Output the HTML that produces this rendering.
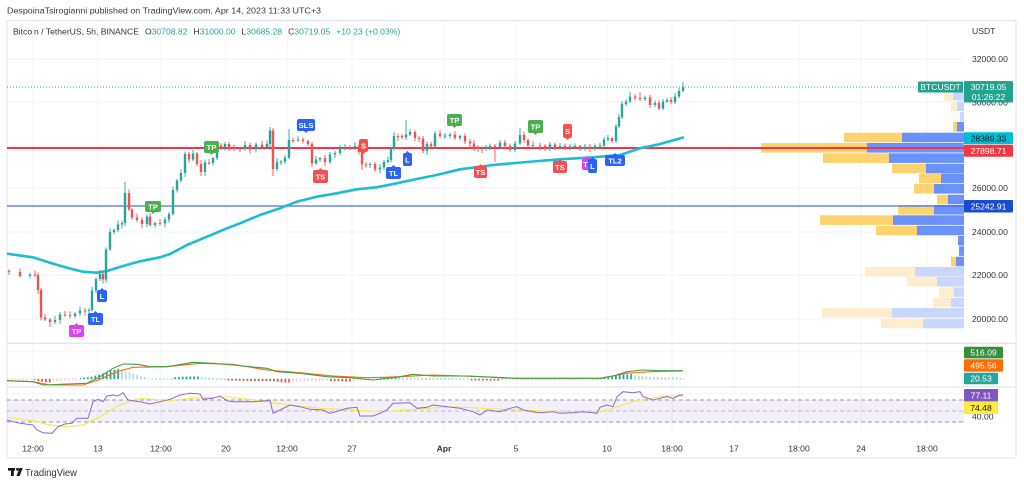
<!DOCTYPE html>
<html><head><meta charset="utf-8"><style>
html,body{margin:0;padding:0;background:#fff;}
svg{display:block;font-family:"Liberation Sans",sans-serif;}
</style></head><body>
<svg width="1024" height="485" viewBox="0 0 1024 485" xmlns="http://www.w3.org/2000/svg">
<defs>
<pattern id="pT" patternUnits="userSpaceOnUse" x="7" y="0" width="3.8" height="20"><rect width="1.8" height="20" fill="#26a69a"/></pattern>
<pattern id="pTl" patternUnits="userSpaceOnUse" x="7" y="0" width="3.8" height="20"><rect width="1.8" height="20" fill="#b2dfdb"/></pattern>
<pattern id="pR" patternUnits="userSpaceOnUse" x="7" y="0" width="3.8" height="20"><rect width="1.8" height="20" fill="#ef5350"/></pattern>
<pattern id="pRl" patternUnits="userSpaceOnUse" x="7" y="0" width="3.8" height="20"><rect width="1.8" height="20" fill="#ffcdd2"/></pattern>
</defs>
<rect width="1024" height="485" fill="#fff"/>
<!-- header -->
<text x="7" y="13.7" font-size="8.6" fill="#3a3a3a" textLength="314" lengthAdjust="spacingAndGlyphs">DespoinaTsirogianni published on TradingView.com, Apr 14, 2023 11:33 UTC+3</text>
<rect x="7" y="20.5" width="1009" height="437.5" fill="none" stroke="#e0e3eb" stroke-width="1"/>
<text x="13" y="34.7" font-size="8.6" fill="#333">Bitcoin / TetherUS, 5h, BINANCE<tspan dx="6">O</tspan><tspan fill="#26a69a">30708.82</tspan><tspan dx="6">H</tspan><tspan fill="#26a69a">31000.00</tspan><tspan dx="6">L</tspan><tspan fill="#26a69a">30685.28</tspan><tspan dx="6">C</tspan><tspan fill="#26a69a">30719.05</tspan><tspan dx="6" fill="#26a69a">+10.23 (+0.03%)</tspan></text>

<g stroke="#f0f3fa" stroke-width="1">
<line x1="33" y1="21" x2="33" y2="432"/><line x1="98" y1="21" x2="98" y2="432"/><line x1="161" y1="21" x2="161" y2="432"/><line x1="226" y1="21" x2="226" y2="432"/><line x1="287" y1="21" x2="287" y2="432"/><line x1="352" y1="21" x2="352" y2="432"/><line x1="444" y1="21" x2="444" y2="432"/><line x1="516" y1="21" x2="516" y2="432"/><line x1="607" y1="21" x2="607" y2="432"/><line x1="672" y1="21" x2="672" y2="432"/><line x1="734" y1="21" x2="734" y2="432"/><line x1="799" y1="21" x2="799" y2="432"/><line x1="861" y1="21" x2="861" y2="432"/><line x1="927" y1="21" x2="927" y2="432"/>
<line x1="7" y1="59" x2="964" y2="59"/><line x1="7" y1="102" x2="964" y2="102"/><line x1="7" y1="145.7" x2="964" y2="145.7"/><line x1="7" y1="188" x2="964" y2="188"/><line x1="7" y1="232" x2="964" y2="232"/><line x1="7" y1="275" x2="964" y2="275"/><line x1="7" y1="319" x2="964" y2="319"/>
<line x1="7" y1="351.7" x2="964" y2="351.7"/><line x1="7" y1="394" x2="964" y2="394"/>
</g>
<rect x="7" y="342.5" width="1009" height="1.6" fill="#e6e8ee"/>
<rect x="7" y="386.2" width="1009" height="1.4" fill="#e6e8ee"/>

<!-- volume profile -->
<g>
<rect x="944" y="91" width="9" height="9.6" fill="#fdedcc"/><rect x="953" y="91" width="11" height="9.6" fill="#c9d7fd"/>
<rect x="951" y="101.5" width="6" height="9.6" fill="#fdedcc"/><rect x="957" y="101.5" width="7" height="9.6" fill="#c9d7fd"/>
<rect x="960" y="112" width="4" height="9.6" fill="#c9d7fd"/>
<rect x="953" y="122" width="4" height="9.6" fill="#fcd36f"/><rect x="957" y="122" width="7" height="9.6" fill="#6b92fb"/>
<rect x="844" y="132.7" width="58" height="9.6" fill="#fcd36f"/><rect x="902" y="132.7" width="62" height="9.6" fill="#6b92fb"/>
<rect x="761" y="143" width="106" height="9.6" fill="#fcd36f"/><rect x="867" y="143" width="97" height="9.6" fill="#6b92fb"/>
<rect x="823" y="153.3" width="66" height="9.6" fill="#fcd36f"/><rect x="889" y="153.3" width="75" height="9.6" fill="#6b92fb"/>
<rect x="892" y="163.7" width="34" height="9.6" fill="#fcd36f"/><rect x="926" y="163.7" width="38" height="9.6" fill="#6b92fb"/>
<rect x="919" y="173.7" width="22" height="9.6" fill="#fcd36f"/><rect x="941" y="173.7" width="23" height="9.6" fill="#6b92fb"/>
<rect x="914" y="184" width="20" height="9.6" fill="#fcd36f"/><rect x="934" y="184" width="30" height="9.6" fill="#6b92fb"/>
<rect x="937" y="194.7" width="11" height="9.6" fill="#fcd36f"/><rect x="948" y="194.7" width="16" height="9.6" fill="#6b92fb"/>
<rect x="898" y="205" width="36" height="9.6" fill="#fcd36f"/><rect x="934" y="205" width="30" height="9.6" fill="#6b92fb"/>
<rect x="820" y="215.3" width="73" height="9.6" fill="#fcd36f"/><rect x="893" y="215.3" width="71" height="9.6" fill="#6b92fb"/>
<rect x="876" y="225.7" width="41" height="9.6" fill="#fcd36f"/><rect x="917" y="225.7" width="47" height="9.6" fill="#6b92fb"/>
<rect x="958" y="236" width="6" height="9.6" fill="#6b92fb"/>
<rect x="959" y="246.3" width="5" height="9.6" fill="#6b92fb"/>
<rect x="951" y="256.7" width="5" height="9.6" fill="#fcd36f"/><rect x="956" y="256.7" width="8" height="9.6" fill="#6b92fb"/>
<rect x="865" y="267" width="50" height="9.6" fill="#fdedcc"/><rect x="915" y="267" width="49" height="9.6" fill="#c9d7fd"/>
<rect x="907" y="277" width="30" height="9.6" fill="#fdedcc"/><rect x="937" y="277" width="27" height="9.6" fill="#c9d7fd"/>
<rect x="939" y="287.3" width="15" height="9.6" fill="#fdedcc"/><rect x="954" y="287.3" width="10" height="9.6" fill="#c9d7fd"/>
<rect x="933" y="297.7" width="18" height="9.6" fill="#fdedcc"/><rect x="951" y="297.7" width="13" height="9.6" fill="#c9d7fd"/>
<rect x="822" y="308" width="70" height="9.6" fill="#fdedcc"/><rect x="892" y="308" width="72" height="9.6" fill="#c9d7fd"/>
<rect x="881" y="318.7" width="42" height="9.6" fill="#fdedcc"/><rect x="923" y="318.7" width="41" height="9.6" fill="#c9d7fd"/>
</g>

<!-- horizontal levels -->
<line x1="7" y1="87" x2="918" y2="87" stroke="#26a69a" stroke-width="1" stroke-dasharray="1,2"/>
<line x1="7" y1="148" x2="964" y2="148" stroke="#f23645" stroke-width="2"/>
<line x1="7" y1="206" x2="964" y2="206" stroke="#4a6fe3" stroke-width="1.2"/>

<!-- MA line -->
<polyline fill="none" stroke="#1ebcd3" stroke-width="2.6" stroke-linejoin="round" points="7,253.7 33,257.3 50,262.7 67,267.7 83,271.7 97,272.7 107,271 123,266 140,261.3 160,257.3 170,254 187,245 207,236.7 227,228.3 240,223.3 260,215 280,208.3 296.7,201.7 316.7,196.7 336.7,193.3 356.7,189.3 376.7,187.3 396.7,183.3 416.7,179 436.7,175 460,169.3 493,165 526.7,162 560,159.3 593,157.3 620,155 640,148.3 660,144 684,137.3"/>

<!-- candles: red -->
<path fill="none" stroke="#ef5350" stroke-width="0.9" d="M9,269V275M20,268.5V277.5M35,270.5V277.5M38,272.5V294M41,288V320.5M45,314V321M50,318V327M65,311V317M70,311.5V318.5M85,308V315.5M103,271.5V283.5M129,189.5V211M132,208V220M137,213.5V222M142,217.5V228M150,213V226.5M160,219V226M189,152V162.5M197,152V166.5M201,160V176M209,159V165M221,143V150M229,142V151M234,144.5V151M240,147V152M250,142.5V153.5M262,141V149M273,128V176M293,137.5V143M303,137.5V143.5M308,139.5V146M312,142V167M325,155V166M350,145V150M359,143.5V154.5M362,150V170M366,162V168M375,162V172M398,133.5V141M402,134V139M415,130V141M419,136V142M423,136V153M431,142V148M440,130V138M455,131V140M465,133.5V144M470,139V148M474,140V151M478,145V152M482,146.5V153M495,144V162M505,140V148M510,143.5V152M524,131.5V143M528,138.5V148M540,143V150M545,144V151M555,142.5V150M565,143.5V149.5M580,145V151M590,144V152M612,136.5V143M635,94V100.5M640,92V101M650,95V108M659,100V110M671,97V104"/>
<path fill="#ef5350" d="M7.8,271h2.4v1h-2.4zM18.8,272h2.4v4h-2.4zM33.8,274.5h2.4v1h-2.4zM36.8,275h2.4v15h-2.4zM39.8,290h2.4v27.5h-2.4zM43.8,317.5h2.4v2h-2.4zM48.8,319.5h2.4v2.5h-2.4zM63.8,314.5h2.4v1h-2.4zM68.8,315h2.4v1h-2.4zM83.8,310.5h2.4v1h-2.4zM101.8,274h2.4v5.5h-2.4zM127.8,193h2.4v16.5h-2.4zM130.8,209.5h2.4v8h-2.4zM135.8,217.5h2.4v2.5h-2.4zM140.8,220h2.4v4h-2.4zM148.8,216.5h2.4v8.5h-2.4zM158.8,223h2.4v1h-2.4zM187.8,154h2.4v5.5h-2.4zM195.8,153.5h2.4v10.5h-2.4zM199.8,164h2.4v8h-2.4zM207.8,162.5h2.4v1h-2.4zM219.8,145.5h2.4v2h-2.4zM227.8,144h2.4v4h-2.4zM232.8,148h2.4v1h-2.4zM238.8,148.5h2.4v1h-2.4zM248.8,145h2.4v4.5h-2.4zM260.8,144.5h2.4v2.5h-2.4zM271.8,130.5h2.4v38.5h-2.4zM291.8,140h2.4v1h-2.4zM301.8,139.5h2.4v1.5h-2.4zM306.8,141h2.4v3h-2.4zM310.8,144h2.4v19.5h-2.4zM323.8,158h2.4v4h-2.4zM348.8,147.5h2.4v1h-2.4zM357.8,146h2.4v6h-2.4zM360.8,152h2.4v12.5h-2.4zM364.8,164.5h2.4v1h-2.4zM373.8,164h2.4v5.5h-2.4zM396.8,136h2.4v1h-2.4zM400.8,136h2.4v1.5h-2.4zM413.8,132h2.4v6h-2.4zM417.8,138h2.4v1h-2.4zM421.8,138.5h2.4v12.5h-2.4zM429.8,144h2.4v2.5h-2.4zM438.8,133.5h2.4v2.5h-2.4zM453.8,134.5h2.4v3.5h-2.4zM463.8,136h2.4v5.5h-2.4zM468.8,141.5h2.4v2h-2.4zM472.8,143.5h2.4v4.5h-2.4zM476.8,148h2.4v1h-2.4zM480.8,148h2.4v1h-2.4zM493.8,146h2.4v1.5h-2.4zM503.8,142.5h2.4v3.5h-2.4zM508.8,146h2.4v4h-2.4zM522.8,135h2.4v5h-2.4zM526.8,140h2.4v5.5h-2.4zM538.8,145.5h2.4v1h-2.4zM543.8,146h2.4v3h-2.4zM553.8,144.5h2.4v3.5h-2.4zM563.8,146h2.4v1.5h-2.4zM578.8,146h2.4v3h-2.4zM588.8,146.5h2.4v2.5h-2.4zM610.8,138h2.4v3h-2.4zM633.8,96.5h2.4v1.5h-2.4zM638.8,98h2.4v1h-2.4zM648.8,97.5h2.4v7.5h-2.4zM657.8,103h2.4v5.5h-2.4zM669.8,100h2.4v2h-2.4z"/>
<!-- candles: green -->
<path fill="none" stroke="#26a69a" stroke-width="0.9" d="M30,273V278.5M55,316V324M60,312V324M75,312V318M80,306.5V316M89,308V314M92,287V311.5M96,277.5V293M100,270V281M106,247.5V282.5M110,228.5V251M114,228.5V234.5M118,220.5V232M122,220.5V228.5M125,182V226M147,214.5V227M155,221.5V227.5M165,217V227.5M169,212V222.5M173,186.5V215.5M177,179V192.5M181,169V182.5M185,151.5V177M193,150V161M205,160V176M213,156.5V165.5M217,141.5V160M225,142V150.5M245,141V151M256,142.5V152.5M267,140.5V148.5M270,127V147M277,158V171M281,160V165M285,155V164M289,129V159M298,136V142M316,156V165M320,157V162M330,152V164M335,151V158M340,145.5V155.5M345,144V150.5M355,142V150M370,162.5V168M380,164V173.5M384,160V170M388,156.5V163.5M391,147V162.5M394,132V150.5M406,120V140M410,129V136M427,141.5V155M435,131V149M445,133V139M450,132.5V138.5M460,134.5V140.5M486,145V151M490,143.5V150M500,140V149M515,141V152M520,128V145M533,141V148M550,142V151M560,143V149.5M570,144V150.5M575,143.5V149M585,144V151M595,143.5V151M600,143V148M604,137V147M608,135V141.5M616,124V143M619,114V128M622,101V119M626,99V106M630,92V103M645,95.5V101M655,100.5V107M663,99V110M667,98V103M675,93V104M679,88V98M683,82V92"/>
<path fill="#26a69a" d="M28.8,274.5h2.4v1.5h-2.4zM53.8,320h2.4v2h-2.4zM58.8,314.5h2.4v5.5h-2.4zM73.8,313.5h2.4v2.5h-2.4zM78.8,310.5h2.4v3h-2.4zM87.8,310h2.4v1h-2.4zM90.8,290.5h2.4v19.5h-2.4zM94.8,279h2.4v11.5h-2.4zM98.8,274h2.4v5h-2.4zM104.8,249.5h2.4v30h-2.4zM108.8,232h2.4v17.5h-2.4zM112.8,230h2.4v2h-2.4zM116.8,224.5h2.4v5.5h-2.4zM120.8,223h2.4v1.5h-2.4zM123.8,193h2.4v30h-2.4zM145.8,216.5h2.4v7.5h-2.4zM153.8,223h2.4v2h-2.4zM163.8,219.5h2.4v4h-2.4zM167.8,214h2.4v5.5h-2.4zM171.8,190h2.4v24h-2.4zM175.8,180.5h2.4v9.5h-2.4zM179.8,173h2.4v7.5h-2.4zM183.8,154h2.4v19h-2.4zM191.8,153.5h2.4v6h-2.4zM203.8,162.5h2.4v9.5h-2.4zM211.8,158h2.4v5h-2.4zM215.8,145.5h2.4v12.5h-2.4zM223.8,144h2.4v3.5h-2.4zM243.8,145h2.4v4h-2.4zM254.8,144.5h2.4v5h-2.4zM265.8,144h2.4v3h-2.4zM268.8,130.5h2.4v13.5h-2.4zM275.8,162h2.4v7h-2.4zM279.8,161.5h2.4v1h-2.4zM283.8,157.5h2.4v4h-2.4zM287.8,140h2.4v17.5h-2.4zM296.8,139.5h2.4v1h-2.4zM314.8,159.5h2.4v4h-2.4zM318.8,158h2.4v1.5h-2.4zM328.8,154.5h2.4v7.5h-2.4zM333.8,153h2.4v1.5h-2.4zM338.8,148h2.4v5h-2.4zM343.8,147.5h2.4v1h-2.4zM353.8,146h2.4v1.5h-2.4zM368.8,164h2.4v1h-2.4zM378.8,167.5h2.4v2h-2.4zM382.8,162h2.4v5.5h-2.4zM386.8,160h2.4v2h-2.4zM389.8,148.5h2.4v11.5h-2.4zM392.8,136h2.4v12.5h-2.4zM404.8,134.5h2.4v3h-2.4zM408.8,132h2.4v2.5h-2.4zM425.8,144h2.4v7h-2.4zM433.8,133.5h2.4v13h-2.4zM443.8,135.5h2.4v1h-2.4zM448.8,134.5h2.4v1.5h-2.4zM458.8,136h2.4v2h-2.4zM484.8,148h2.4v1h-2.4zM488.8,146h2.4v2h-2.4zM498.8,142.5h2.4v5h-2.4zM513.8,143.5h2.4v6.5h-2.4zM518.8,135h2.4v8.5h-2.4zM531.8,145h2.4v1h-2.4zM548.8,144.5h2.4v4.5h-2.4zM558.8,146h2.4v2h-2.4zM568.8,146.5h2.4v1h-2.4zM573.8,146h2.4v1h-2.4zM583.8,146.5h2.4v2.5h-2.4zM593.8,146h2.4v3h-2.4zM598.8,145.5h2.4v1h-2.4zM602.8,139.5h2.4v6h-2.4zM606.8,138h2.4v1.5h-2.4zM614.8,126.5h2.4v14.5h-2.4zM617.8,117h2.4v9.5h-2.4zM620.8,104h2.4v13h-2.4zM624.8,101.5h2.4v2.5h-2.4zM628.8,96.5h2.4v5h-2.4zM643.8,97.5h2.4v1.5h-2.4zM653.8,103h2.4v2h-2.4zM661.8,101.5h2.4v7h-2.4zM665.8,100h2.4v1.5h-2.4zM673.8,96.5h2.4v5.5h-2.4zM677.8,91h2.4v5.5h-2.4zM681.8,87h2.4v4h-2.4z"/>

<!-- RSI band -->
<rect x="7" y="400" width="957" height="22" fill="#7e57c2" fill-opacity="0.09"/>
<g stroke="#9598a1" stroke-width="1" stroke-dasharray="4,3">
<line x1="7" y1="400" x2="964" y2="400"/><line x1="7" y1="411" x2="964" y2="411" stroke-opacity="0.6"/><line x1="7" y1="422" x2="964" y2="422"/>
</g>
<polyline fill="none" stroke="#fde74c" stroke-width="1.2" points="7,417.3 33,420.7 50,425 67,426.7 83,425 100,416.7 120,405 140,398.3 167,400.7 193,398.3 227,396.7 253,400 290,405 320,408.3 350,410 383,411.7 417,409.3 450,406.7 483,408.3 515,410 567,411.7 600,411.7 613,408.3 633,401.7 650,398.3 667,395.7 683,396"/>
<polyline fill="none" stroke="#8a6ad0" stroke-width="1" points="7,420 20,423.3 33,425 37,430 43,432.7 52,433.3 58,426.7 65,424 72,423.3 77,418.3 88,418.3 93,401.7 98,399.3 103,401.7 107,396 113,395 118,396 123,392.7 128,400 140,401.7 150,404 160,401.7 170,399.3 180,395 190,393.3 200,394 203,399.3 213,398.3 220,396 227,400.7 233,401.7 253,401.7 267,400.7 270,400 273,413.3 280,410 290,405 300,406.7 310,409.3 323,410 330,413.3 347,408.3 357,407.3 360,416 373,416 380,413.3 387,410 393,403.3 410,402.7 417,408.3 427,407.3 433,405 447,406.7 460,408.3 473,411.7 480,415 487,410 500,411.7 510,408.3 517,406.7 523,410 533,411.7 540,412.7 553,411.7 560,413.3 573,412.7 583,411.7 593,412.7 597,413.3 600,407.3 607,405 613,406.7 617,396.7 623,391.7 633,392.7 640,391.7 643,396.7 653,400 660,398.3 667,396.7 673,398.3 680,395 683,395"/>

<!-- MACD histogram -->
<rect x="7" y="378.4" width="677" height="1.3" fill="url(#pRl)"/>
<polygon fill="url(#pTl)" points="150,378.4 684,378.4 684,379.7 150,379.7"/>
<polygon fill="url(#pR)" points="33,379 38,381 46,382.5 52,382.5 52,379"/>
<polygon fill="url(#pRl)" points="52,379 52,381.5 75,380 75,379"/>
<polygon fill="url(#pT)" points="80,379 80,378 90,377 100,374.5 110,370.5 119,369 119,379"/>
<polygon fill="url(#pTl)" points="119,379 119,369.5 130,372.5 140,376 148,378 148,379"/>
<polygon fill="url(#pT)" points="172,379 172,377.5 185,376.5 199,376.5 199,379"/>
<polygon fill="url(#pTl)" points="199,379 199,377 215,378 215,379"/>
<polygon fill="url(#pR)" points="225,379 225,380.5 250,381 270,381 285,382.5 290,382.5 290,379"/>
<polygon fill="url(#pRl)" points="290,379 290,382 330,380.5 330,379"/>
<polygon fill="url(#pR)" points="330,379 330,381 345,381.5 352,381.5 352,379"/>
<polygon fill="url(#pRl)" points="352,379 352,381 378,380 378,379"/>
<polygon fill="url(#pT)" points="380,379 380,377.5 390,376.5 399,376.5 399,379"/>
<polygon fill="url(#pTl)" points="399,379 399,377.5 460,378.3 460,379"/>
<polygon fill="url(#pRl)" points="460,379 460,380.2 600,380.2 600,379"/>
<polygon fill="url(#pR)" points="470,379 470,380.5 500,380.5 500,379"/>
<polygon fill="url(#pT)" points="600,379 600,378 610,376.5 620,375 633,374 633,379"/>
<polygon fill="url(#pTl)" points="633,379 633,375 650,376.8 684,377.8 684,379"/>
<polyline fill="none" stroke="#ff6d00" stroke-width="1.1" points="7,380.7 33,381.7 50,385 83,385 100,379.3 117,371.7 133,367.3 167,366.7 200,363.3 233,364.3 267,370 300,372.7 333,376 367,377.7 400,376.7 433,375 483,376.7 517,378.3 600,378.3 627,373.3 650,371.7 683,371"/>
<polyline fill="none" stroke="#43a047" stroke-width="1.1" points="7,380.7 33,381.7 43,385 67,384 87,383.3 100,376.7 113,368.3 123,364 137,364.3 150,366.7 167,366.7 193,362.3 213,363.3 233,365 267,368.3 277,371.7 300,373.3 327,376.7 350,377.7 373,380 400,376.7 413,374.3 433,376 467,376 500,377.7 517,378.3 600,378.3 613,376 627,371.7 643,370 660,370.7 683,370.7"/>

<!-- tags -->
<g font-size="7.6" font-weight="bold" fill="#fff" text-anchor="middle">
<rect x="69" y="325" width="15" height="12" rx="2" fill="#e040fb"/><polygon points="74.5,325 78.5,325 76.5,323" fill="#e040fb"/><text x="76.5" y="333.8">TP</text>
<rect x="88" y="313" width="15" height="12" rx="2" fill="#2962ff"/><polygon points="93.5,313 97.5,313 95.5,311" fill="#2962ff"/><text x="95.5" y="321.8">TL</text>
<rect x="97" y="290" width="10" height="12" rx="2" fill="#2962ff"/><polygon points="100,290 104,290 102,288" fill="#2962ff"/><text x="102" y="298.8">L</text>
<rect x="145" y="201" width="16" height="11" rx="2" fill="#4caf50"/><polygon points="151,212 155,212 153,214" fill="#4caf50"/><text x="153" y="209.3">TP</text>
<rect x="204" y="141" width="15" height="12" rx="2" fill="#4caf50"/><polygon points="209.5,153 213.5,153 211.5,155" fill="#4caf50"/><text x="211.5" y="149.8">TP</text>
<rect x="297" y="119" width="18" height="12" rx="2" fill="#2962ff"/><polygon points="304,131 308,131 306,133" fill="#2962ff"/><text x="306" y="127.8">SLS</text>
<rect x="313" y="170" width="15" height="13" rx="2" fill="#f44f4f"/><polygon points="318.5,170 322.5,170 320.5,168" fill="#f44f4f"/><text x="320.5" y="179.3">TS</text>
<rect x="359" y="139" width="9" height="13" rx="2" fill="#f44f4f"/><polygon points="361.5,152 365.5,152 363.5,154" fill="#f44f4f"/><text x="363.5" y="148.3">S</text>
<rect x="386" y="167" width="15" height="12" rx="2" fill="#2962ff"/><polygon points="391.5,167 395.5,167 393.5,165" fill="#2962ff"/><text x="393.5" y="175.8">TL</text>
<rect x="403" y="153" width="9" height="13" rx="2" fill="#2962ff"/><polygon points="405.5,153 409.5,153 407.5,151" fill="#2962ff"/><text x="407.5" y="162.3">L</text>
<rect x="447" y="114" width="15" height="12" rx="2" fill="#4caf50"/><polygon points="452.5,126 456.5,126 454.5,128" fill="#4caf50"/><text x="454.5" y="122.8">TP</text>
<rect x="474" y="166" width="13" height="12" rx="2" fill="#f44f4f"/><polygon points="478.5,166 482.5,166 480.5,164" fill="#f44f4f"/><text x="480.5" y="174.8">TS</text>
<rect x="528" y="120" width="15" height="13" rx="2" fill="#4caf50"/><polygon points="533.5,133 537.5,133 535.5,135" fill="#4caf50"/><text x="535.5" y="129.3">TP</text>
<rect x="563" y="124" width="9" height="14" rx="2" fill="#f44f4f"/><polygon points="565.5,138 569.5,138 567.5,140" fill="#f44f4f"/><text x="567.5" y="133.8">S</text>
<rect x="553" y="161" width="14" height="12" rx="2" fill="#f44f4f"/><polygon points="558,161 562,161 560,159" fill="#f44f4f"/><text x="560" y="169.8">TS</text>
<rect x="582" y="158" width="9" height="12" rx="2" fill="#e040fb"/><polygon points="584.5,158 588.5,158 586.5,156" fill="#e040fb"/><text x="585.5" y="166.8">T</text>
<rect x="588" y="159" width="9" height="14" rx="2" fill="#2962ff"/><polygon points="590.5,159 594.5,159 592.5,157" fill="#2962ff"/><text x="592.5" y="168.8">L</text>
<rect x="605" y="155" width="20" height="11" rx="2" fill="#2962ff"/><polygon points="613,155 617,155 615,153" fill="#2962ff"/><text x="615" y="163.3">TL2</text>
</g>

<!-- price axis -->
<g font-size="8.6" fill="#333">
<text x="972" y="34">USDT</text>
<text x="972" y="62">32000.00</text>
<text x="972" y="105.5">30000.00</text>
<text x="972" y="191">26000.00</text>
<text x="972" y="235">24000.00</text>
<text x="972" y="278">22000.00</text>
<text x="972" y="322">20000.00</text>
<text x="972" y="419.5">40.00</text>
</g>
<g font-size="8.6">
<rect x="918" y="81.5" width="45" height="11" rx="1" fill="#22a28f"/><text x="940.5" y="90" fill="#fff" text-anchor="middle">BTCUSDT</text>
<rect x="964" y="81" width="49" height="21.5" rx="1" fill="#22a28f"/><text x="988.5" y="90" fill="#fff" text-anchor="middle">30719.05</text><text x="988.5" y="100" fill="#fff" text-anchor="middle">01:26:22</text>
<rect x="964" y="132.3" width="49" height="11.8" rx="1" fill="#00bcd4"/><text x="988.5" y="141.3" fill="#131722" text-anchor="middle">28389.33</text>
<rect x="964" y="144.8" width="49" height="12" rx="1" fill="#f23645"/><text x="988.5" y="153.8" fill="#fff" text-anchor="middle">27898.71</text>
<rect x="964" y="200" width="49" height="12.5" rx="1" fill="#1a4bd0"/><text x="988.5" y="209.3" fill="#fff" text-anchor="middle">25242.91</text>
<rect x="964" y="346.8" width="39" height="11.6" rx="1" fill="#388e3c"/><text x="983.5" y="355.7" fill="#fff" text-anchor="middle">516.09</text>
<rect x="964" y="359.3" width="39" height="12.3" rx="1" fill="#ff6d00"/><text x="983.5" y="368.5" fill="#fff" text-anchor="middle">495.56</text>
<rect x="964" y="372.7" width="34" height="11.6" rx="1" fill="#26a69a"/><text x="981" y="381.6" fill="#fff" text-anchor="middle">20.53</text>
<rect x="964" y="389" width="34" height="12.5" rx="1" fill="#7e57c2"/><text x="981" y="398.3" fill="#fff" text-anchor="middle">77.11</text>
<rect x="964" y="402" width="34" height="12" rx="1" fill="#ffeb3b"/><text x="981" y="411" fill="#131722" text-anchor="middle">74.48</text>
</g>

<!-- time axis -->
<g font-size="8.6" fill="#333" text-anchor="middle">
<text x="33" y="451.5">12:00</text><text x="98" y="451.5">13</text><text x="161" y="451.5">12:00</text><text x="226" y="451.5">20</text><text x="287" y="451.5">12:00</text><text x="352" y="451.5">27</text><text x="444" y="451.5" font-weight="bold">Apr</text><text x="516" y="451.5">5</text><text x="607" y="451.5">10</text><text x="672" y="451.5">18:00</text><text x="734" y="451.5">17</text><text x="799" y="451.5">18:00</text><text x="861" y="451.5">24</text><text x="927" y="451.5">18:00</text>
</g>

<!-- logo -->
<g fill="#131722">
<rect x="8" y="468" width="7" height="2.6"/><rect x="11" y="468" width="2.8" height="8"/>
<circle cx="17.5" cy="469.3" r="1.4"/>
<polygon points="19.5,468 22.8,468 19.6,476 16.5,476"/>
</g>
<text x="25" y="476" font-size="10" fill="#333" textLength="52" lengthAdjust="spacingAndGlyphs">TradingView</text>
</svg>
</body></html>
